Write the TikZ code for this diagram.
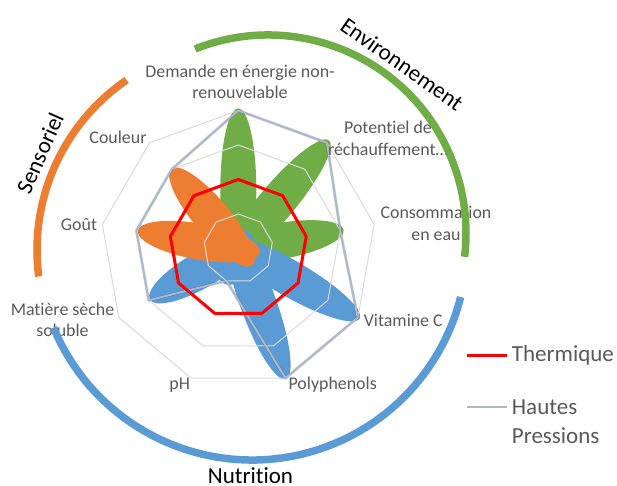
\documentclass[tikz,border=0pt]{standalone}
\usepackage{fontspec}
\setmainfont{Carlito}[Ligatures=NoCommon]
\usepackage{tikz}
\usetikzlibrary{arrows,shapes}

\definecolor{envgreen}{HTML}{70AD47}
\definecolor{sensorange}{HTML}{ED7D31}
\definecolor{nutriblue}{HTML}{5B9BD5}
\definecolor{hpgrey}{HTML}{ADB9CA}
\definecolor{gridgrey}{HTML}{D9D9D9}
\definecolor{labelgrey}{HTML}{595959}

\newcommand{\petal}[4]{\fill[#1,rotate=#2] ({(#3-#4)/2},0) ellipse [x radius={(#3+#4)/2}, y radius=18];}

\begin{document}
\begin{tikzpicture}[x=1pt,y=1pt]
  \tikzstyle{gridline}=[draw=gridgrey,line width=1pt]
  \tikzstyle{hpline}=[draw=hpgrey,line width=2pt,line join=round]
  \tikzstyle{hpshadow}=[draw=black,opacity=0.15,line width=3pt,line join=round]
  \tikzstyle{thline}=[draw=red,line width=3pt,line join=round]
  \tikzstyle{axislabel}=[text=labelgrey,font=\fontsize{17.9}{21.7}\selectfont,
              align=center,anchor=base,inner sep=0pt]
  \tikzstyle{grouplabel}=[text=black,font=\fontsize{23}{27}\selectfont,inner sep=0pt]
  \tikzstyle{grouparc}=[line width=7.5pt]
  \tikzstyle{legendtext}=[text=labelgrey,font=\fontsize{23}{29.3}\selectfont,
              align=left,anchor=base west,inner sep=0pt]
  \useasboundingbox (0,0) rectangle (617,-486);
  \begin{scope}[shift={(238.3,-248.5)}]
    \petal{envgreen}{90}{140}{22}
    \petal{envgreen}{50}{141}{22}
    \petal{envgreen}{10}{107}{22}
    \petal{nutriblue}{-30}{140}{22}
    \petal{nutriblue}{-70}{139}{22}
    \petal{nutriblue}{-110}{38}{20}
    \petal{nutriblue}{-150}{102}{16}
    \petal{sensorange}{170}{102}{22}
    \petal{sensorange}{130}{104}{22}
    \foreach \lvl in {1,...,4}
      \draw[gridline] (90:{\lvl*34.5}) \foreach \a in {50,10,-30,-70,-110,-150,-190,-230} {-- (\a:{\lvl*34.5})} -- cycle;
    \foreach \a/\v [count=\i] in {90/4,50/4,10/3,-30/4,-70/4,-110/1,-150/3,170/3,130/3} {
      \coordinate (hp\i) at (\a:{\v*34.5});
      \coordinate (th\i) at (\a:69);
    }
    \draw[hpshadow,shift={(1.2,-1.2)}] (hp1) -- (hp2) -- (hp3) -- (hp4) -- (hp5) -- (hp6) -- (hp7) -- (hp8) -- (hp9) -- cycle;
    \draw[hpline] (hp1) -- (hp2) -- (hp3) -- (hp4) -- (hp5) -- (hp6) -- (hp7) -- (hp8) -- (hp9) -- cycle;
    \draw[thline] (th1) -- (th2) -- (th3) -- (th4) -- (th5) -- (th6) -- (th7) -- (th8) -- (th9) -- cycle;
  \end{scope}

  \node[axislabel] (demande) at (240,-99) {Demande en énergie non-\\renouvelable};
  \node[axislabel] (potentiel) at (388,-155.7) {Potentiel de\\réchauffement…};
  \node[axislabel] (conso) at (436,-240) {Consommation\\en eau};
  \node[axislabel] (vitc) at (403.3,-326) {Vitamine C};
  \node[axislabel] (poly) at (332.7,-389.3) {Polyphenols};
  \node[axislabel] (ph) at (179.7,-389.3) {pH};
  \node[axislabel] (matiere) at (62.5,-336.7) {Matière sèche\\soluble};
  \node[axislabel] (gout) at (79,-230) {Goût};
  \node[axislabel] (couleur) at (118,-144) {Couleur};

  \coordinate (envc) at (268,-233);
  \coordinate (sensc) at (243,-250);
  \coordinate (nutric) at (252,-245);
  \draw[grouparc,envgreen] ([shift={(111.6:198)}]envc) arc[start angle=111.6,end angle=-6.9,radius=198];
  \draw[grouparc,sensorange] ([shift={(124.4:206)}]sensc) arc[start angle=124.4,end angle=187.4,radius=206];
  \draw[grouparc,nutriblue] ([shift={(202.6:215)}]nutric) arc[start angle=202.6,end angle=346,radius=215];
  \node[grouplabel,rotate=-35] (env) at (402,-64) {Environnement};
  \node[grouplabel,rotate=66] (sens) at (40,-153) {Sensoriel};
  \node[grouplabel,anchor=base] (nutri) at (250.5,-483) {Nutrition};

  \coordinate (thA) at (467,-355);
  \coordinate (thB) at (507,-355);
  \coordinate (hpA) at (467,-407);
  \coordinate (hpB) at (507,-407);
  \draw[thline] (thA) -- (thB);
  \draw[hpline] (hpA) -- (hpB);
  \node[legendtext] (thtext) at (511.7,-361.7) {Thermique};
  \node[legendtext] (hptext) at (511.7,-443.3) {Hautes\\Pressions};
\end{tikzpicture}
\end{document}
